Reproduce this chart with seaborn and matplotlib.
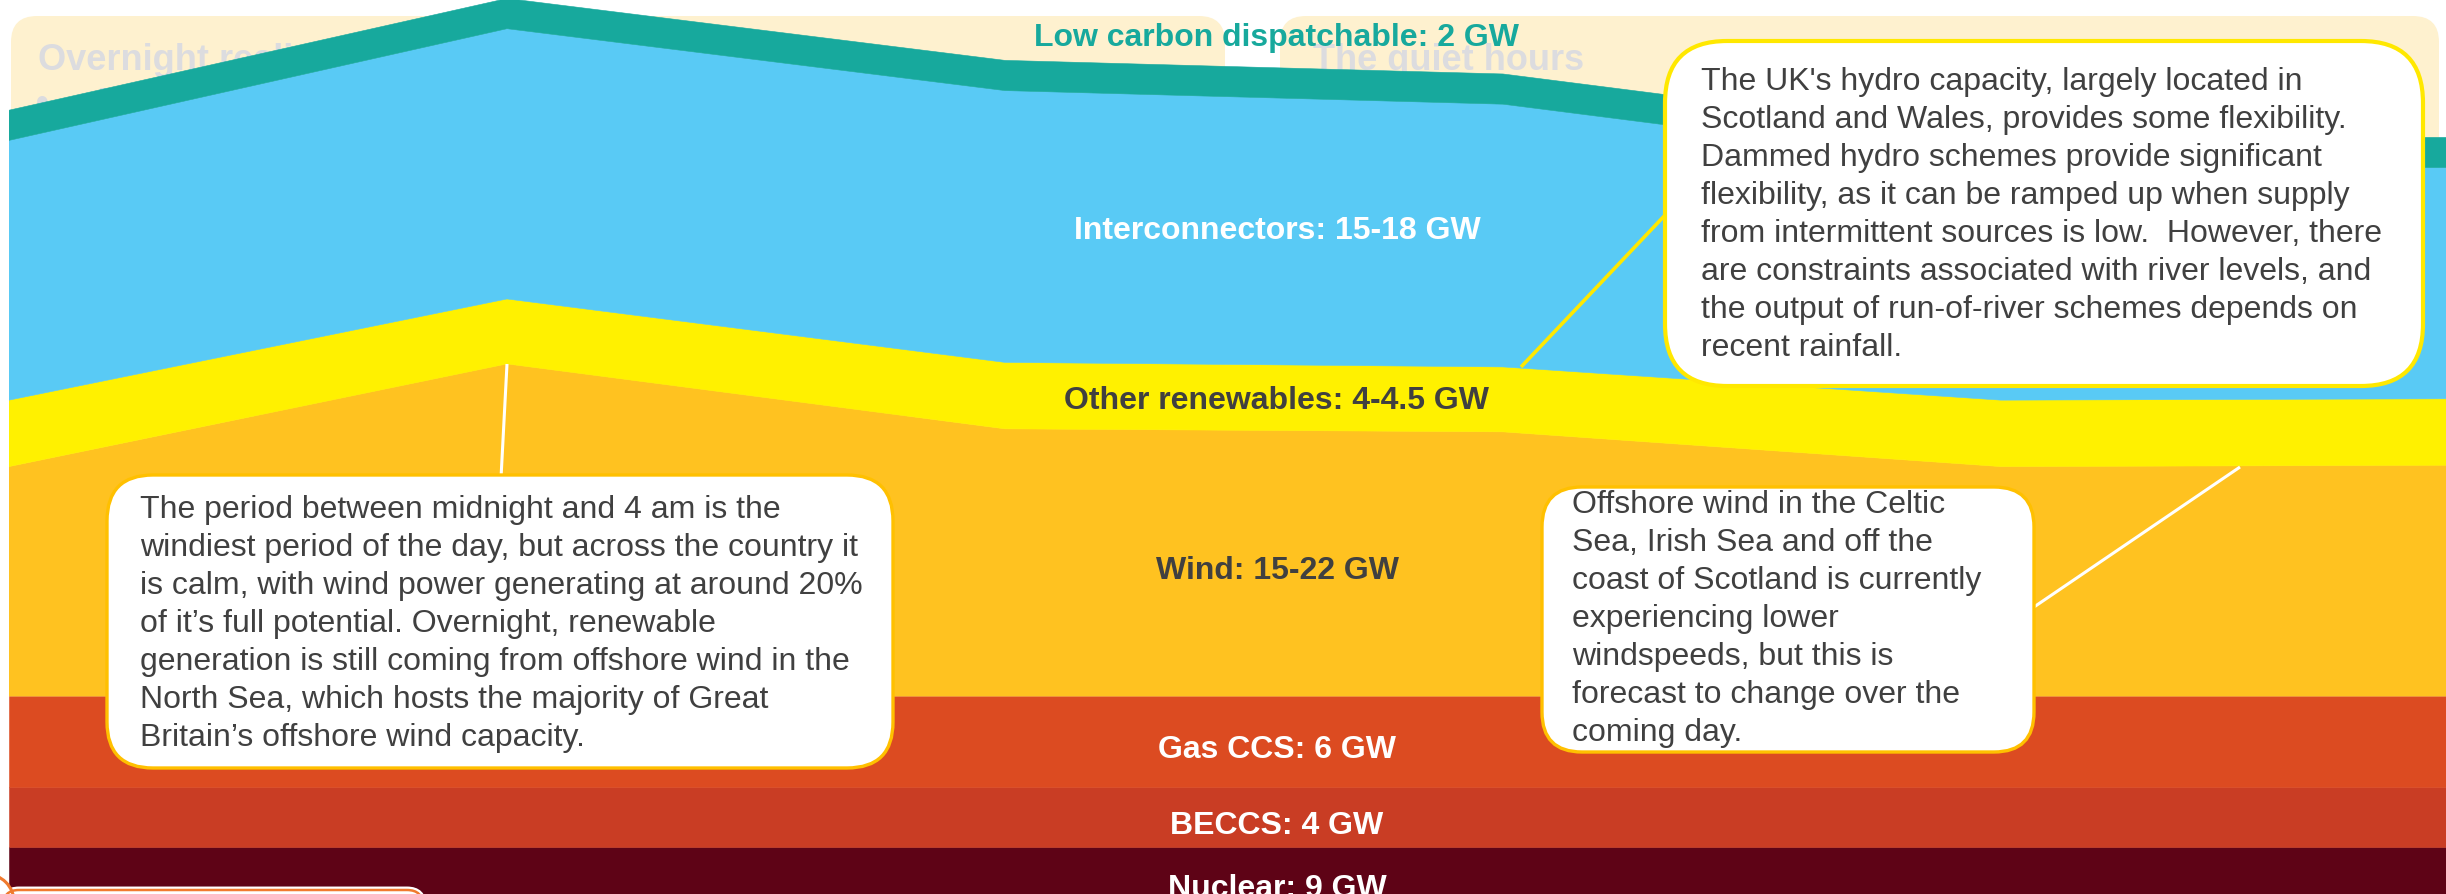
import matplotlib
matplotlib.use("Agg")
import matplotlib.pyplot as plt
from matplotlib.patches import FancyBboxPatch, Arc
import seaborn as sns

# Overnight generation mix (GW), hourly from midnight
hours = [0, 1, 2, 3, 4, 5]
nuclear = [9, 9, 9, 9, 9, 9]
beccs = [4, 4, 4, 4, 4, 4]
gas_ccs = [6, 6, 6, 6, 6, 6]
wind = [15.2, 22.0, 17.7, 17.5, 15.2, 15.3]
other_renewables = [4.4, 4.3, 4.4, 4.3, 4.4, 4.4]
interconnectors = [17.2, 17.9, 18.0, 17.4, 15.4, 15.3]
low_carbon = [2, 2, 2, 2, 2, 2]

layer_labels = ["Nuclear: 9 GW", "BECCS: 4 GW", "Gas CCS: 6 GW", "Wind: 15-22 GW",
                "Other renewables: 4-4.5 GW", "Interconnectors: 15-18 GW",
                "Low carbon dispatchable: 2 GW"]
layer_colors = ["#5E0316", "#C93D24", "#DC4B21", "#FFC220", "#FFF100", "#59CAF5", "#17A99D"]
label_colors = ["white", "white", "white", "#404040", "#404040", "white", "#17A99D"]

wind_note = ["The period between midnight and 4 am is the",
             "windiest period of the day, but across the country it",
             "is calm, with wind power generating at around 20%",
             "of it\u2019s full potential. Overnight, renewable",
             "generation is still coming from offshore wind in the",
             "North Sea, which hosts the majority of Great",
             "Britain\u2019s offshore wind capacity."]
offshore_note = ["Offshore wind in the Celtic",
                 "Sea, Irish Sea and off the",
                 "coast of Scotland is currently",
                 "experiencing lower",
                 "windspeeds, but this is",
                 "forecast to change over the",
                 "coming day."]
hydro_note = ["The UK's hydro capacity, largely located in",
              "Scotland and Wales, provides some flexibility.",
              "Dammed hydro schemes provide significant",
              "flexibility, as it can be ramped up when supply",
              "from intermittent sources is low.  However, there",
              "are constraints associated with river levels, and",
              "the output of run-of-river schemes depends on",
              "recent rainfall."]

sns.set_theme(style="white")
plt.rcParams["font.family"] = ["Liberation Sans", "DejaVu Sans"]

W, H = 2446, 894
fig = plt.figure(figsize=(W / 100, H / 100), dpi=100)
fig.patch.set_facecolor("white")

# geometry of the stacked chart (pixels)
left_px, base_px, px_per_gw, px_per_hour = 9, 983, 15.1, 498

# background panels with faded headings
bg = fig.add_axes([0, 0, 1, 1], zorder=0)
bg.set_xlim(0, W); bg.set_ylim(H, 0); bg.axis("off")
cream = "#FEF1CF"
faint = "#DCDCDF"
bg.add_patch(FancyBboxPatch((11, 16), 1214, 400, boxstyle="round,pad=0,rounding_size=26",
                            fc=cream, ec="none"))
bg.add_patch(FancyBboxPatch((1280, 16), 1159, 400, boxstyle="round,pad=0,rounding_size=26",
                            fc=cream, ec="none"))
bg.text(38, 70, "Overnight realities", fontsize=26, weight="bold", color=faint, va="baseline")
bg.text(36, 114, "\u2022", fontsize=26, weight="bold", color=faint, va="baseline")
bg.text(100, 114, "There is little demand", fontsize=26, weight="bold", color=faint, va="baseline")
bg.text(1313, 70, "The quiet hours", fontsize=26, weight="bold", color=faint, va="baseline")

# stacked generation chart
chart = fig.add_axes([left_px / W, (H - base_px) / H, (W - left_px) / W, base_px / H], zorder=1)
chart.patch.set_alpha(0)
polys = chart.stackplot(hours, nuclear, beccs, gas_ccs, wind, other_renewables,
                        interconnectors, low_carbon, colors=layer_colors, linewidth=0)
for p, c in zip(polys, layer_colors):
    p.set_edgecolor(c)
    p.set_linewidth(0.4)
chart.set_xlim(0, (W - left_px) / px_per_hour)
chart.set_ylim(0, base_px / px_per_gw)
chart.axis("off")

# annotations layer
ov = fig.add_axes([0, 0, 1, 1], zorder=2)
ov.set_xlim(0, W); ov.set_ylim(H, 0); ov.axis("off"); ov.patch.set_alpha(0)

label_baselines = [897, 834, 758, 579, 409, 239, 46]
for text, col, yb in zip(layer_labels, label_colors, label_baselines):
    ov.text(1277, yb, text, fontsize=23, weight="bold", color=col, ha="center", va="baseline")

# connector lines
ov.plot([507, 501], [364, 478], color="white", lw=2.2, solid_capstyle="butt")
ov.plot([2034, 2240], [607, 467], color="white", lw=2.2, solid_capstyle="butt")
ov.plot([1668, 1521], [212, 367], color="#FFE800", lw=2.6, solid_capstyle="butt")

text_col = "#404040"

def note(x, y, w, h, r, edge, lw, lines, tx, ty):
    ov.add_patch(FancyBboxPatch((x, y), w, h, boxstyle=f"round,pad=0,rounding_size={r}",
                                fc="white", ec=edge, lw=lw, zorder=3))
    for i, line in enumerate(lines):
        ov.text(tx, ty + 38 * i, line, fontsize=23, color=text_col, va="baseline", zorder=4)

note(107, 475, 786, 293, 46, "#FFC000", 2.4, wind_note, 140, 518)
note(1542, 487, 492, 265, 40, "#FFC000", 2.4, offshore_note, 1572, 513)
note(1665, 41, 758, 345, 62, "#FFE800", 3.0, hydro_note, 1701, 90)

# partially visible box at the bottom-left corner
ov.add_patch(FancyBboxPatch((3, 890), 420, 100, boxstyle="round,pad=0,rounding_size=16",
                            fc="white", ec="white", lw=5, zorder=3))
ov.add_patch(FancyBboxPatch((3, 890), 420, 100, boxstyle="round,pad=0,rounding_size=16",
                            fc="white", ec="#F07A2E", lw=1.8, zorder=3))
ov.add_patch(Arc((-14, 902), 56, 56, theta1=0, theta2=360, color="#F07A2E", lw=2.2, zorder=4))

fig.savefig("out.png", dpi=100, facecolor="white")
